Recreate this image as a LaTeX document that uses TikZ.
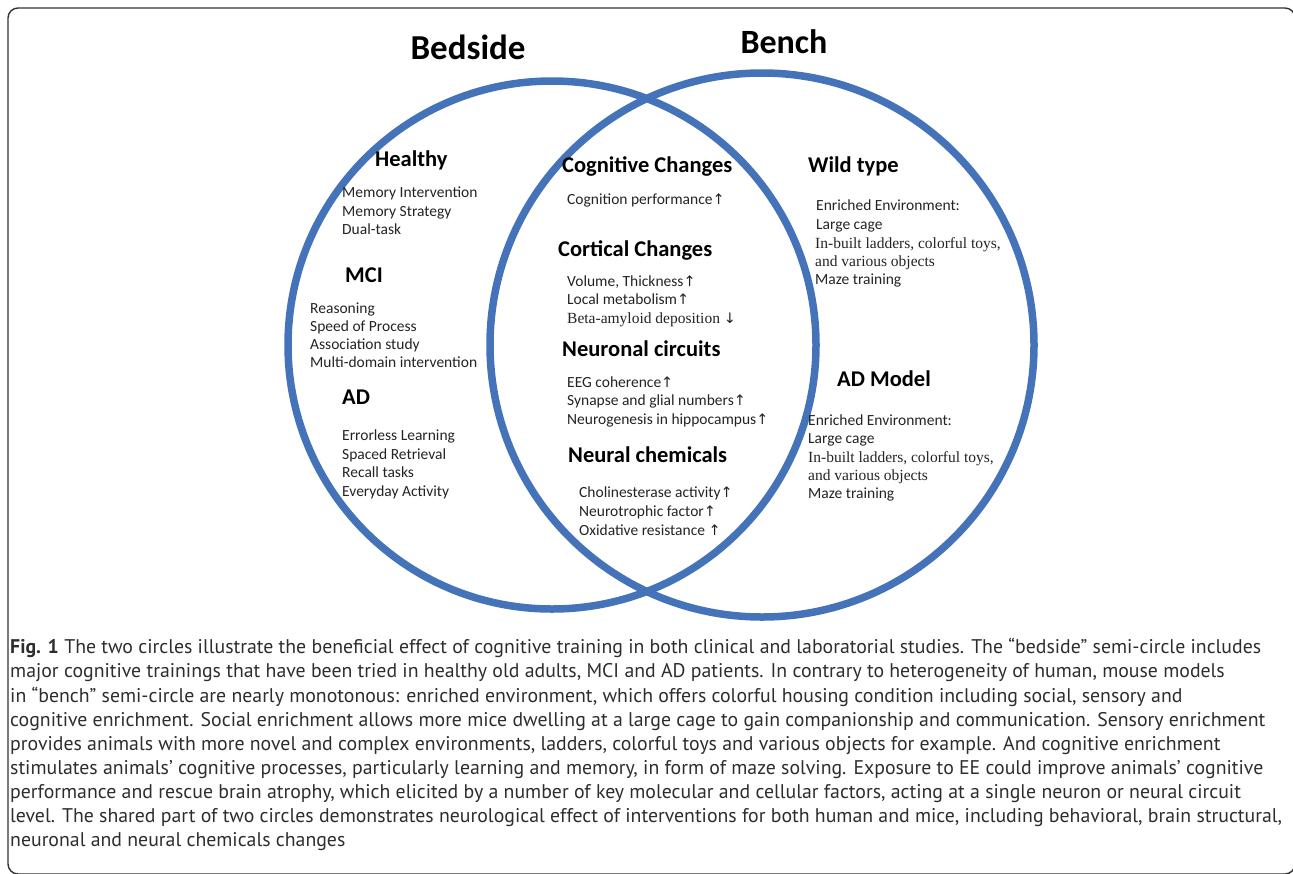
\documentclass[tikz,border=0pt]{standalone}
\usepackage{fontspec}
\setmainfont{Carlito}
\newfontfamily\capfont{PT Sans}
\newfontfamily\serfont{Liberation Serif}
\newfontfamily\arrfont{DejaVu Sans}
\definecolor{ringblue}{RGB}{68,115,186}
\definecolor{itemgray}{RGB}{35,35,35}
\definecolor{capgray}{RGB}{45,45,45}
\newcommand{\up}{{\arrfont\fontsize{14.5}{14.5}\selectfont↑}}
\newcommand{\dn}{{\arrfont\fontsize{14.5}{14.5}\selectfont↓}}
\begin{document}
\begin{tikzpicture}[x=1pt,y=-1pt,
  ring/.style={draw=ringblue,line width=7.5pt},
  title/.style={inner sep=0pt,font=\bfseries\fontsize{35}{40}\selectfont},
  head/.style={anchor=mid west,inner sep=0pt,yshift=-4pt,font=\bfseries\fontsize{22.5}{26}\selectfont},
  item/.style={anchor=mid west,inner sep=0pt,yshift=-3pt,text=itemgray,font=\fontsize{15.5}{18}\selectfont},
  sitem/.style={anchor=mid west,inner sep=0pt,yshift=-3pt,text=itemgray,font=\serfont\fontsize{15.5}{18}\selectfont},
  capline/.style={anchor=mid west,inner sep=0pt,yshift=-3pt,text=capgray,font=\capfont\fontsize{19.8}{22}\selectfont},
  frame/.style={draw=black!80,line width=1.4pt,rounded corners=10pt}]
\useasboundingbox (0,0) rectangle (1293,873);
\begin{scope}
\clip (0,0) rectangle (1293,873);
\draw[frame] (8,8) rectangle (1295,874);
\end{scope}
% circles
\draw[ring] (552,345) circle (264);
\draw[ring] (762,345) circle (272);
% titles
\node[title] (bedside) at (468,47) {Bedside};
\node[title,font=\bfseries\fontsize{34}{40}\selectfont] (bench) at (784,42) {Bench};
% left
\node[head] (healthy) at (375,160) {Healthy};
\node[item] (h1) at (342,192) {Memory Intervention};
\node[item] (h2) at (342,211) {Memory Strategy};
\node[item] (h3) at (342,229) {Dual-task};
\node[head] (mci) at (345,276) {MCI};
\node[item] (m1) at (310,308) {Reasoning};
\node[item] (m2) at (310,326) {Speed of Process};
\node[item] (m3) at (310,344) {Association study};
\node[item] (m4) at (310,362) {Multi-domain intervention};
\node[head] (ad) at (342,398) {AD};
\node[item] (a1) at (342,435) {Errorless Learning};
\node[item] (a2) at (342,454) {Spaced Retrieval};
\node[item] (a3) at (342,472) {Recall tasks};
\node[item] (a4) at (342,491) {Everyday Activity};
% middle
\node[head] (cog) at (562,166) {Cognitive Changes};
\node[item] (c1) at (567,199) {Cognition performance\up};
\node[head] (cort) at (558,250) {Cortical Changes};
\node[item] (k1) at (567,281) {Volume, Thickness\up};
\node[item] (k2) at (567,299) {Local metabolism\up};
\node[sitem] (k3) at (567,318) {Beta-amyloid deposition \dn};
\node[head] (neur) at (562,350) {Neuronal circuits};
\node[item] (n1) at (567,382) {EEG coherence\up};
\node[item] (n2) at (567,400) {Synapse and glial numbers\up};
\node[item] (n3) at (567,419) {Neurogenesis in hippocampus\up};
\node[head] (chem) at (568,456) {Neural chemicals};
\node[item] (q1) at (579,492) {Cholinesterase activity\up};
\node[item] (q2) at (579,511) {Neurotrophic factor\up};
\node[item] (q3) at (579,530) {Oxidative resistance \up};
% right
\node[head] (wild) at (808,166) {Wild type};
\node[item] (w1) at (816,205) {Enriched Environment:};
\node[item] (w2) at (816,224) {Large cage};
\node[sitem] (w3) at (815,243) {In-built ladders, colorful toys,};
\node[sitem] (w4) at (815,261) {and various objects};
\node[item] (w5) at (815,279) {Maze training};
\node[head] (adm) at (837,380) {AD Model};
\node[item] (d1) at (808,420) {Enriched Environment:};
\node[item] (d2) at (808,438) {Large cage};
\node[sitem] (d3) at (808,457) {In-built ladders, colorful toys,};
\node[sitem] (d4) at (808,475) {and various objects};
\node[item] (d5) at (808,493) {Maze training};
% caption
\node[capline] (cap1) at (10,648) {\textbf{Fig. 1} The two circles illustrate the beneficial effect of cognitive training in both clinical and laboratorial studies. The “bedside” semi-circle includes};
\node[capline] (cap2) at (10,672) {major cognitive trainings that have been tried in healthy old adults, MCI and AD patients. In contrary to heterogeneity of human, mouse models};
\node[capline] (cap3) at (10,697) {in “bench” semi-circle are nearly monotonous: enriched environment, which offers colorful housing condition including social, sensory and};
\node[capline] (cap4) at (10,721) {cognitive enrichment. Social enrichment allows more mice dwelling at a large cage to gain companionship and communication. Sensory enrichment};
\node[capline] (cap5) at (10,745) {provides animals with more novel and complex environments, ladders, colorful toys and various objects for example. And cognitive enrichment};
\node[capline] (cap6) at (10,769) {stimulates animals’ cognitive processes, particularly learning and memory, in form of maze solving. Exposure to EE could improve animals’ cognitive};
\node[capline] (cap7) at (10,793) {performance and rescue brain atrophy, which elicited by a number of key molecular and cellular factors, acting at a single neuron or neural circuit};
\node[capline] (cap8) at (10,817) {level. The shared part of two circles demonstrates neurological effect of interventions for both human and mice, including behavioral, brain structural,};
\node[capline] (cap9) at (10,841) {neuronal and neural chemicals changes};
\end{tikzpicture}
\end{document}
